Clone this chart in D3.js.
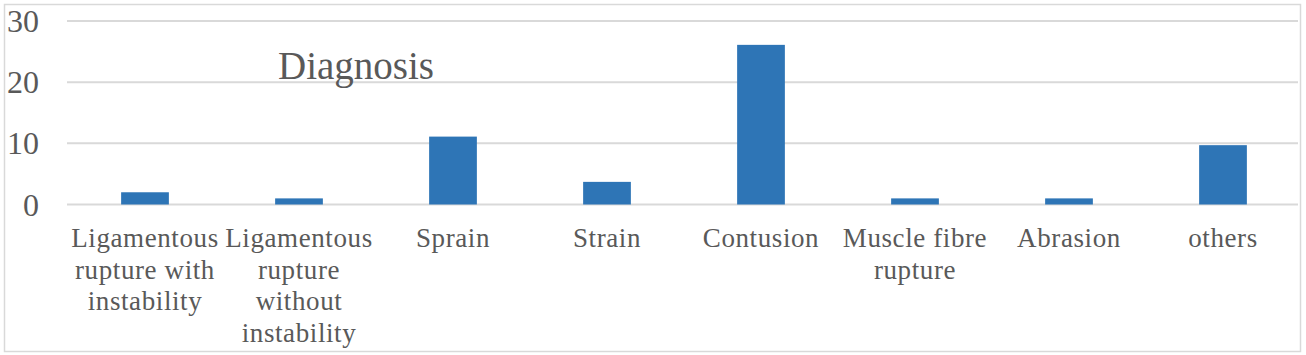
<html>
<head>
<script src="https://cdn.jsdelivr.net/npm/d3@7"></script>
<style>
  body { margin: 0; background: #fff; }
  text { font-family: "Liberation Serif", "DejaVu Serif", serif; fill: #595959; }
</style>
</head>
<body>
<div id="chart"></div>
<script>
// data
var categories = ['Ligamentous rupture with instability', 'Ligamentous rupture without instability',
    'Sprain', 'Strain', 'Contusion', 'Muscle fibre rupture', 'Abrasion', 'others'];
var values = [2.0, 1.0, 11.1, 3.7, 26.1, 1.0, 1.0, 9.7];
var tickLines = [
    ['Ligamentous', 'rupture with', 'instability'],
    ['Ligamentous', 'rupture', 'without', 'instability'],
    ['Sprain'],
    ['Strain'],
    ['Contusion'],
    ['Muscle fibre', 'rupture'],
    ['Abrasion'],
    ['others']
];
var yTicks = [0, 10, 20, 30];
var title = 'Diagnosis';

var width = 1306, height = 355;
var svg = d3.select('#chart').append('svg').attr('width', width).attr('height', height);

// outer frame
svg.append('rect')
    .attr('x', 4.5).attr('y', 4.5)
    .attr('width', 1296).attr('height', 347)
    .attr('fill', 'none').attr('stroke', '#d9d9d9').attr('stroke-width', 1.5);

var x = d3.scaleBand().domain(categories).range([68, 1300]).paddingInner(0.69).paddingOuter(0.345);
var y = d3.scaleLinear().domain([0, 30]).range([204.5, 21]);

// gridlines
svg.append('g').selectAll('line').data(yTicks).enter().append('line')
    .attr('x1', 67).attr('x2', 1298)
    .attr('y1', d => y(d)).attr('y2', d => y(d))
    .attr('stroke', '#d9d9d9').attr('stroke-width', 2);

// y tick labels
svg.append('g').selectAll('text').data(yTicks).enter().append('text')
    .attr('x', 39).attr('y', d => y(d) + 11)
    .attr('text-anchor', 'end')
    .style('font-size', '32px')
    .text(d => d);

// bars
svg.append('g').selectAll('rect').data(values).enter().append('rect')
    .attr('x', (d, i) => x(categories[i]))
    .attr('y', d => y(d))
    .attr('width', x.bandwidth())
    .attr('height', d => y(0) - y(d))
    .attr('fill', '#2e75b6');

// category labels
var lab = svg.append('g').selectAll('text').data(tickLines).enter().append('text')
    .attr('text-anchor', 'middle')
    .style('font-size', '27px')
    .style('letter-spacing', '0.6px');
lab.selectAll('tspan').data((d, i) => d.map(s => ({s: s, i: i}))).enter().append('tspan')
    .attr('x', d => x(categories[d.i]) + x.bandwidth() / 2)
    .attr('y', (d, j) => 247 + j * 31.5)
    .text(d => d.s);

// title
svg.append('text')
    .attr('x', 356).attr('y', 79)
    .attr('text-anchor', 'middle')
    .style('font-size', '39px')
    .text(title);
</script>
</body>
</html>
